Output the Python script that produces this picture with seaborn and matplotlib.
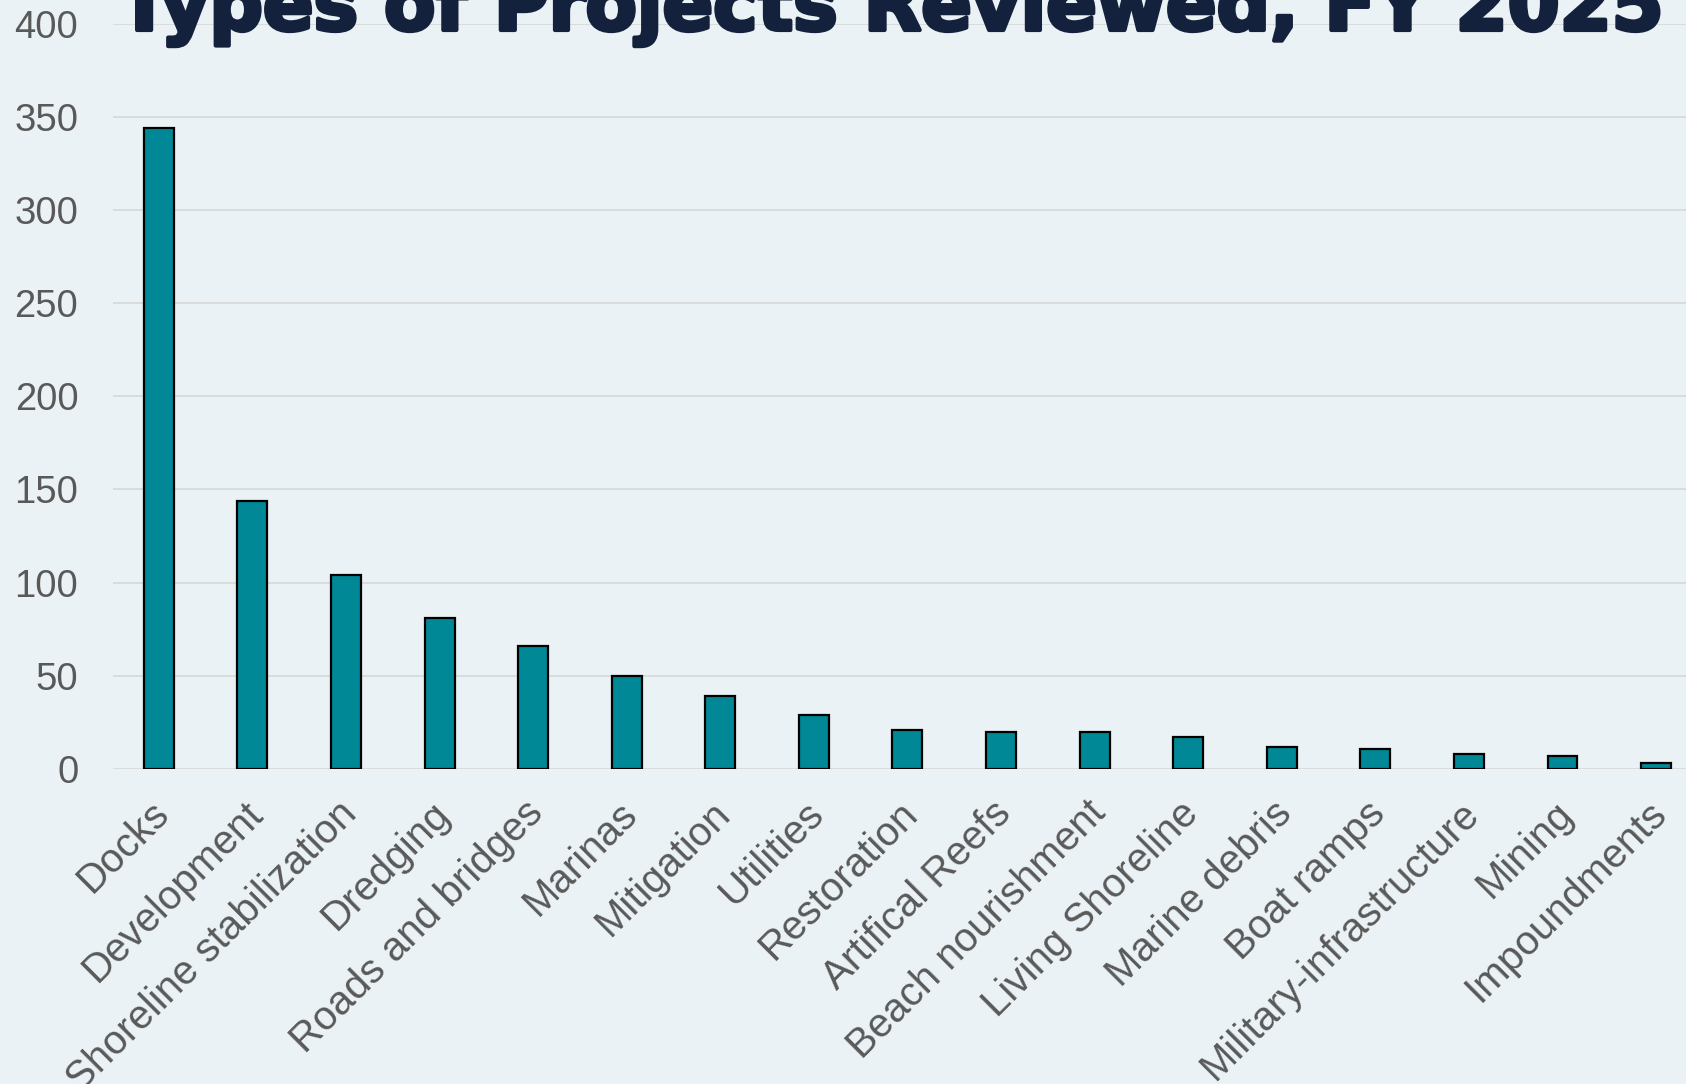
import matplotlib
matplotlib.use("Agg")
import matplotlib.pyplot as plt
import matplotlib.patheffects as pe
import matplotlib.transforms as mtransforms
import pandas as pd
import seaborn as sns

# 값은 그림에서 읽은 것
categories = ["Docks", "Development", "Shoreline stabilization", "Dredging",
              "Roads and bridges", "Marinas", "Mitigation", "Utilities",
              "Restoration", "Artifical Reefs", "Beach nourishment",
              "Living Shoreline", "Marine debris", "Boat ramps",
              "Military-infrastructure", "Mining", "Impoundments"]
counts = [344, 144, 104, 81, 66, 50, 39, 29, 21, 20, 20, 17, 12, 11, 8, 7, 3]
y_ticks = [0, 50, 100, 150, 200, 250, 300, 350, 400]

title = "Types of Projects Reviewed, FY 2025"

bg = "#EAF2F5"
bar_color = "#008896"
label_color = "#595959"
title_color = "#14213D"

sns.set_theme(style="white")
plt.rcParams['font.family'] = ['Liberation Sans', 'DejaVu Sans']

df = pd.DataFrame({"category": categories, "count": counts})

fig = plt.figure(figsize=(16.86, 10.84), dpi=100, facecolor=bg)
ax = fig.add_axes([113 / 1686, 1 - 769 / 1084, 1 - 113 / 1686, (769 - 23.6) / 1084])
ax.set_facecolor(bg)

sns.barplot(data=df, x="category", y="count", color=bar_color,
            edgecolor="black", linewidth=1.6, width=0.32, saturation=1, ax=ax, zorder=3)

ax.set_ylim(0, 400)
ax.set_xlim(-0.49, 16.32)
ax.set_yticks(y_ticks)
ax.yaxis.grid(True, color="#D9D9D9", linewidth=1.3, zorder=0)
ax.set_axisbelow(True)
for s in ax.spines.values():
    s.set_visible(False)
ax.set_xlabel("")
ax.set_ylabel("")
ax.tick_params(axis="y", length=0, pad=25, labelsize=27.5, labelcolor=label_color)
ax.tick_params(axis="x", length=0, pad=18, labelsize=29, labelcolor=label_color)
# x 라벨 조금 왼쪽으로
shift = mtransforms.ScaledTranslation(-0.09, 0, fig.dpi_scale_trans)
for lbl in ax.get_xticklabels():
    lbl.set_rotation(45)
    lbl.set_ha("right")
    lbl.set_rotation_mode("anchor")
    lbl.set_transform(lbl.get_transform() + shift)

# 제목 (위쪽이 잘려 있음)
fig.text(0.5288, 1 - 30 / 1084, title, ha="center", va="baseline",
         fontsize=53.8, fontweight="bold", color=title_color,
         family=['DejaVu Sans'],
         path_effects=[pe.withStroke(linewidth=3, foreground=title_color)])

fig.savefig("out.png", dpi=100, facecolor=bg)
